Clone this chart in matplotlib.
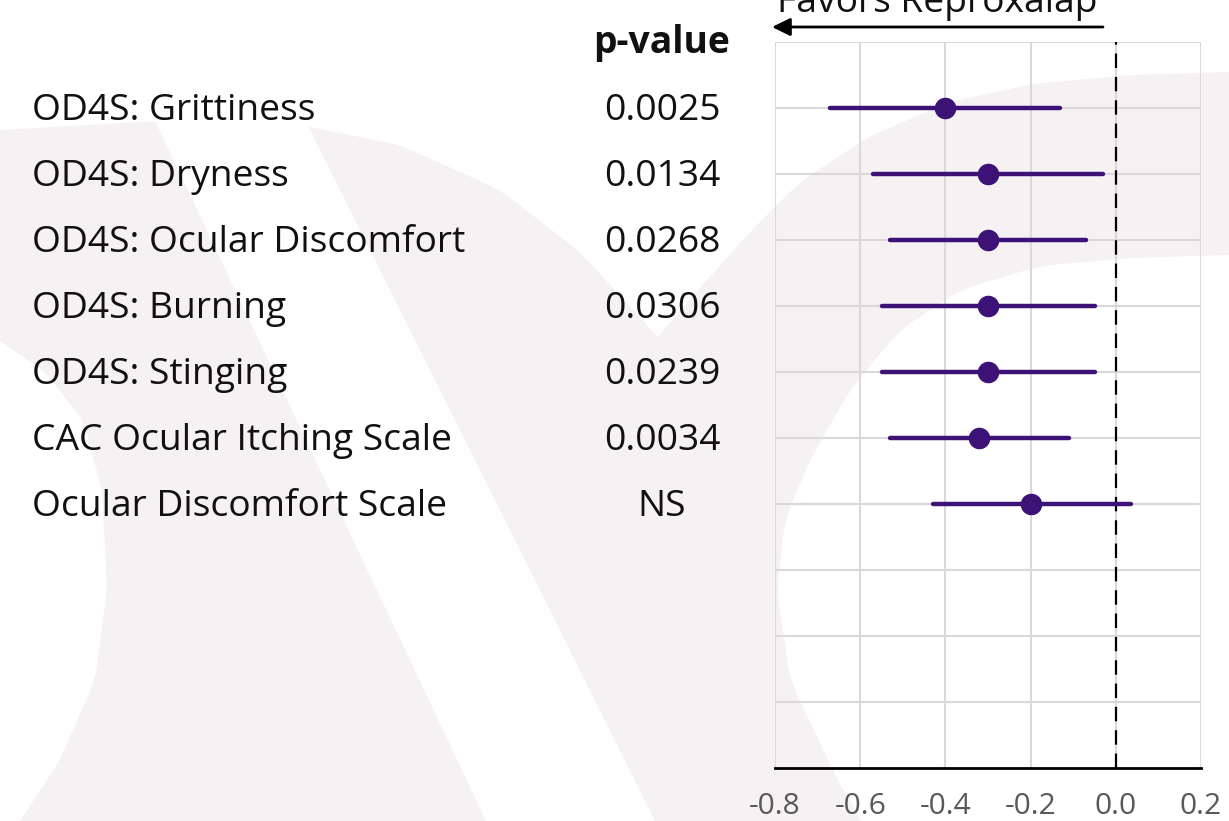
import numpy as np
import matplotlib
matplotlib.use("Agg")
import matplotlib.pyplot as plt
from matplotlib.patches import Polygon
from matplotlib.transforms import blended_transform_factory

plt.rcParams['font.family'] = ['Open Sans', 'DejaVu Sans']

# Outcomes, p-values and effect estimates with confidence limits
outcomes = [
    "OD4S: Grittiness",
    "OD4S: Dryness",
    "OD4S: Ocular Discomfort",
    "OD4S: Burning",
    "OD4S: Stinging",
    "CAC Ocular Itching Scale",
    "Ocular Discomfort Scale",
]
p_values = ["0.0025", "0.0134", "0.0268", "0.0306", "0.0239", "0.0034", "NS"]
estimate = [-0.40, -0.30, -0.30, -0.30, -0.30, -0.32, -0.20]
ci_low = [-0.67, -0.57, -0.53, -0.55, -0.55, -0.53, -0.43]
ci_high = [-0.13, -0.03, -0.07, -0.05, -0.05, -0.11, 0.035]
x_ticks = [-0.8, -0.6, -0.4, -0.2, 0.0, 0.2]
n_slots = 11

W, H = 1229, 821
fig = plt.figure(figsize=(W / 100, H / 100), dpi=100)
fig.patch.set_facecolor('white')

# Faint logo watermark in the background (pixel coordinates)
bg = fig.add_axes([0, 0, 1, 1], zorder=-5)
bg.set_xlim(0, W)
bg.set_ylim(H, 0)
bg.axis('off')
shade = '#f6f2f3'


def smooth(pts, n=200):
    pts = np.asarray(pts, float)
    d = np.r_[0, np.cumsum(np.hypot(*np.diff(pts, axis=0).T))]
    t = np.linspace(0, d[-1], n)
    xs = np.interp(t, d, pts[:, 0])
    ys = np.interp(t, d, pts[:, 1])
    k = 9
    ker = np.ones(k) / k
    xs = np.r_[xs[0], np.convolve(np.pad(xs, k // 2, mode='edge'), ker, 'valid')[1:-1], xs[-1]]
    ys = np.r_[ys[0], np.convolve(np.pad(ys, k // 2, mode='edge'), ker, 'valid')[1:-1], ys[-1]]
    return np.c_[xs, ys]


top_left = smooth([(0, 130), (140, 122), (275, 120), (400, 145), (500, 190),
                   (580, 252), (658, 337)])
top_right = smooth([(658, 337), (700, 288), (750, 232), (800, 182), (870, 136),
                    (950, 102), (1033, 84), (1130, 75), (1229, 72)])
outer = np.vstack([top_left, top_right, [(1229, 821), (0, 821)]])
bg.add_patch(Polygon(outer, closed=True, facecolor=shade, edgecolor='none'))

left_cut = smooth([(0, 341), (45, 372), (83, 420), (102, 490), (107, 590),
                   (95, 680), (60, 760), (20, 821)])
bg.add_patch(Polygon(np.vstack([left_cut, [(0, 821)]]), closed=True,
                     facecolor='white', edgecolor='none'))
bg.add_patch(Polygon([(150, 110), (300, 110), (655, 821), (486, 821)], closed=True,
                     facecolor='white', edgecolor='none'))
inner = smooth([(862, 821), (841, 787), (790, 680), (777, 590), (785, 520),
                (810, 460), (850, 390), (900, 330), (960, 290), (1040, 266),
                (1130, 258), (1229, 255)])
bg.add_patch(Polygon(np.vstack([inner, [(1229, 821)]]), closed=True,
                     facecolor='white', edgecolor='none'))

# Forest plot axes
ax_l, ax_r, ax_t, ax_b = 775, 1201, 42, 768
ax = fig.add_axes([ax_l / W, (H - ax_b) / H, (ax_r - ax_l) / W, (ax_b - ax_t) / H])
ax.set_facecolor('none')
ax.set_xlim(x_ticks[0], x_ticks[-1])
ax.set_ylim(n_slots, 0)

grid_c = '#d9d9d9'
for xv in x_ticks:
    ax.axvline(xv, color=grid_c, lw=1.5, zorder=1)
for yv in range(n_slots):
    ax.axhline(yv, color=grid_c, lw=1.5, zorder=1)

for s in ['top', 'left', 'right']:
    ax.spines[s].set_visible(False)
ax.spines['bottom'].set_color('black')
ax.spines['bottom'].set_linewidth(2.0)
ax.spines['bottom'].set_zorder(5)

zero = ax.axvline(0.0, color='black', lw=1.6, zorder=3)
zero.set_dashes([6.5, 4.0])
zero.set_dash_capstyle('butt')

rows = np.arange(1, len(outcomes) + 1)
purple = '#3d1277'
for r, lo, hi, est in zip(rows, ci_low, ci_high, estimate):
    ax.plot([lo, hi], [r, r], color=purple, lw=3.2, solid_capstyle='round', zorder=4)
    ax.plot([est], [r], 'o', color=purple, ms=14.5, mec=purple, zorder=5)

ax.set_xticks(x_ticks)
ax.set_xticklabels([f"{v:.1f}" for v in x_ticks], fontsize=21.5, color='#595959')
ax.tick_params(axis='x', length=0, pad=17)
ax.set_yticks([])

# Outcome names and p-values
label_fs = 26.8
tr = blended_transform_factory(fig.transFigure, ax.transData)
for r, name, pv in zip(rows, outcomes, p_values):
    fig.text(32 / W, r - 0.02, name, transform=tr, ha='left', va='center_baseline',
             fontsize=label_fs, color='#111111')
    fig.text(662 / W, r - 0.02, pv, transform=tr, ha='center', va='center_baseline',
             fontsize=label_fs, color='#111111')

fig.text(662 / W, 1 - 38 / H, "p-value", ha='center', va='center_baseline',
         fontsize=label_fs, fontweight='bold', color='#111111')

# Direction arrow and label above the plot
fig.text(937 / W, 1 - 12 / H, "Favors Reproxalap", ha='center', va='baseline',
         fontsize=label_fs, color='#111111')
ax.annotate('', xy=(772 / W, 1 - 27 / H), xytext=(1103 / W, 1 - 27 / H),
            xycoords='figure fraction', textcoords='figure fraction',
            arrowprops=dict(arrowstyle='-|>,head_length=0.55,head_width=0.27',
                            mutation_scale=20, color='black', lw=2.0,
                            shrinkA=0, shrinkB=0))

fig.savefig('out.png', dpi=100, facecolor='white')
